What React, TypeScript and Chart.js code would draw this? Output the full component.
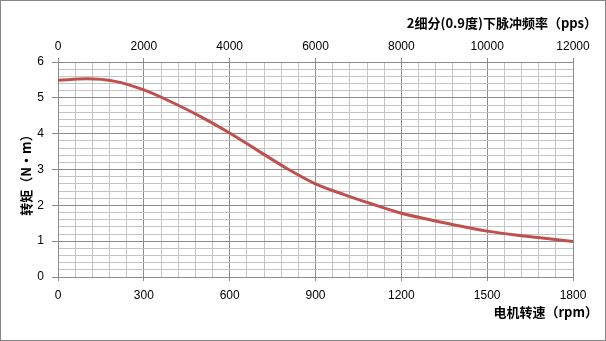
import React, { useEffect, useRef } from "react";
import { Chart, registerables } from "chart.js";

Chart.register(...registerables);

const rpm = [0, 100, 200, 300, 400, 500, 600, 700, 800, 900, 1000, 1100, 1200, 1300, 1400, 1500, 1600, 1700, 1800];
const torque = [5.49, 5.53, 5.46, 5.22, 4.87, 4.47, 4.02, 3.52, 3.03, 2.6, 2.3, 2.03, 1.78, 1.6, 1.43, 1.28, 1.17, 1.08, 0.99];

const topTitle = "2细分(0.9度)下脉冲频率（pps）";
const bottomTitle = "电机转速（rpm）";
const leftTitle = "转矩（N·m）";

const MAJOR = "#8c8c8c";
const MINOR = "#c4c4c4";
const CJK = "'Noto Sans CJK SC', 'Noto Sans', sans-serif";
const NUM = "'Liberation Sans', Arial, sans-serif";

const isMult = (v: number, m: number) => Math.abs(v / m - Math.round(v / m)) < 1e-6;

const titlePlugin = {
  id: "customTitles",
  afterDraw(chart: any) {
    const ctx = chart.ctx;
    ctx.save();
    ctx.fillStyle = "#000";
    ctx.font = `bold 13px ${CJK}`;
    ctx.textBaseline = "middle";
    ctx.textAlign = "right";
    ctx.fillText(topTitle, 597, 23);
    ctx.fillText(bottomTitle, 598, 312);
    ctx.translate(26, 172);
    ctx.rotate(-Math.PI / 2);
    ctx.textAlign = "center";
    ctx.fillText(leftTitle, 0, 0);
    ctx.restore();
  },
};

export default function App() {
  const ref = useRef<HTMLCanvasElement>(null);
  useEffect(() => {
    if (!ref.current) return;
    const chart = new Chart(ref.current, {
      type: "line",
      data: {
        datasets: [
          {
            data: rpm.map((x, i) => ({ x, y: torque[i] })),
            borderColor: "#C0504D",
            borderWidth: 3,
            pointRadius: 0,
            cubicInterpolationMode: "monotone",
            fill: false,
          },
        ],
      },
      options: {
        animation: false,
        responsive: false,
        layout: { padding: { left: 0, right: 33, top: 0, bottom: 0 } },
        plugins: { legend: { display: false }, tooltip: { enabled: false }, title: { display: false } },
        scales: {
          x: {
            type: "linear",
            position: "bottom",
            min: 0,
            max: 1800,
            afterFit: (s: any) => { s.height = 64; },
            ticks: {
              stepSize: 60,
              autoSkip: false,
              maxRotation: 0,
              padding: 7,
              color: "#000",
              font: { family: NUM, size: 12 },
              callback: (v: any) => (isMult(Number(v), 300) ? String(v) : ""),
            },
            grid: {
              color: (c: any) => (isMult(c.tick?.value ?? 0, 300) ? MAJOR : MINOR),
              tickColor: (c: any) => (isMult(c.tick?.value ?? 0, 300) ? MAJOR : "rgba(0,0,0,0)"),
              tickLength: 4,
              lineWidth: 1,
            },
            border: { color: MAJOR },
          },
          x2: {
            type: "linear",
            position: "top",
            min: 0,
            max: 12000,
            afterFit: (s: any) => { s.height = 62; },
            ticks: {
              stepSize: 2000,
              autoSkip: false,
              maxRotation: 0,
              padding: 4,
              color: "#000",
              font: { family: NUM, size: 12 },
              callback: (v: any) => String(Math.round(Number(v))),
            },
            grid: { drawOnChartArea: false, tickLength: 4, color: MAJOR },
            border: { display: false },
          },
          y: {
            type: "linear",
            position: "left",
            min: 0,
            max: 6,
            afterFit: (s: any) => { s.width = 58; },
            ticks: {
              stepSize: 0.2,
              autoSkip: false,
              padding: 8,
              color: "#000",
              font: { family: NUM, size: 12 },
              callback: (v: any) => (isMult(Number(v), 1) ? String(Math.round(Number(v))) : ""),
            },
            grid: {
              color: (c: any) => (isMult(c.tick?.value ?? 0, 1) ? MAJOR : MINOR),
              tickColor: (c: any) => (isMult(c.tick?.value ?? 0, 1) ? MAJOR : "rgba(0,0,0,0)"),
              tickLength: 6,
              lineWidth: 1,
            },
            border: { color: MAJOR },
          },
        },
      },
      plugins: [titlePlugin],
    } as any);
    return () => chart.destroy();
  }, []);

  return (
    <div style={{ position: "fixed", left: 0, top: 0, width: 606, height: 341, background: "#fff" }}>
      <canvas ref={ref} width={606} height={341} style={{ display: "block" }} />
      <div
        style={{
          position: "absolute",
          left: 0,
          top: 0,
          width: 606,
          height: 341,
          boxSizing: "border-box",
          border: "1px solid #868686",
          pointerEvents: "none",
        }}
      />
    </div>
  );
}
